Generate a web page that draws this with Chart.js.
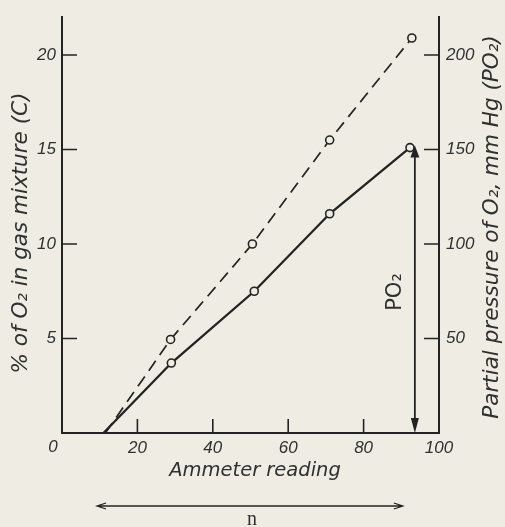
<!DOCTYPE html>
<html>
<head>
<meta charset="utf-8">
<script src="https://cdn.jsdelivr.net/npm/chart.js@4/dist/chart.umd.min.js"></script>
<style>
  html, body { margin: 0; padding: 0; background: #efece4; }
  #wrap { width: 505px; height: 527px; }
</style>
</head>
<body>
<div id="wrap"><canvas id="chart" width="505" height="527"></canvas></div>
<script>
// data (x = ammeter reading, y = % O2)
const solidX = [11, 29, 51, 71, 92.3];
const solidC = [0, 3.7, 7.5, 11.6, 15.1];
const dashedX = [11.5, 28.8, 50.5, 71, 92.8];
const dashedC = [0, 4.95, 10.0, 15.5, 20.9];
const markerShown = [0, 1, 1, 1, 1];

const xTicks = [0, 20, 40, 60, 80, 100];
const leftTicks = [5, 10, 15, 20];
const rightTicks = [50, 100, 150, 200];

const xTitle = 'Ammeter reading';
const leftTitle = '% of O\u2082 in gas mixture (C)';
const rightTitle = 'Partial pressure of O\u2082, mm Hg (PO\u2082)';
const arrowLabel = 'PO\u2082';
const nLabel = 'n';
const po2ArrowX = 93.6;          // ammeter reading of the PO2 arrow
const nRange = [9.3, 90.4];      // span of the n arrow, in ammeter units

const INK = '#232323';
const BG = '#efece4';
const tickFont = { family: 'Liberation Sans', size: 17, style: 'italic' };

function pts(xs, ys) {
    return xs.map((x, i) => ({ x: x, y: ys[i] }));
}

// ticks, titles and arrows drawn on top through the scales
const extras = {
    id: 'extras',
    afterDraw(chart) {
        const ctx = chart.ctx;
        const x = chart.scales.x, y = chart.scales.y, y1 = chart.scales.y1;
        const area = chart.chartArea;
        ctx.save();
        ctx.strokeStyle = INK;
        ctx.fillStyle = INK;
        ctx.lineWidth = 1.6;

        // inward tick marks
        ctx.beginPath();
        leftTicks.forEach(v => {
            const py = y.getPixelForValue(v);
            ctx.moveTo(area.left, py); ctx.lineTo(area.left + 15, py);
        });
        rightTicks.forEach(v => {
            const py = y1.getPixelForValue(v);
            ctx.moveTo(area.right, py); ctx.lineTo(area.right - 15, py);
        });
        xTicks.slice(1, -1).forEach(v => {
            const px = x.getPixelForValue(v);
            ctx.moveTo(px, area.bottom); ctx.lineTo(px, area.bottom - 14);
        });
        ctx.stroke();

        // PO2 arrow (double headed, filled)
        const ax = x.getPixelForValue(po2ArrowX);
        const aTop = y.getPixelForValue(solidC[solidC.length - 1]);
        const aBot = area.bottom;
        ctx.lineWidth = 1.8;
        ctx.beginPath();
        ctx.moveTo(ax, aTop + 8); ctx.lineTo(ax, aBot - 12);
        ctx.stroke();
        ctx.beginPath();
        ctx.moveTo(ax, aBot); ctx.lineTo(ax - 4, aBot - 15); ctx.lineTo(ax + 4, aBot - 15); ctx.closePath();
        ctx.fill();
        ctx.beginPath();
        ctx.moveTo(ax, aTop - 2); ctx.lineTo(ax - 4.5, aTop + 10); ctx.lineTo(ax + 4.5, aTop + 10); ctx.closePath();
        ctx.fill();

        // n arrow under the axis
        const n0 = x.getPixelForValue(nRange[0]);
        const n1 = x.getPixelForValue(nRange[1]);
        const ny = 506;
        ctx.lineWidth = 1.3;
        ctx.beginPath();
        ctx.moveTo(n0, ny); ctx.lineTo(n1, ny);
        ctx.moveTo(n0 + 9, ny - 3); ctx.lineTo(n0, ny); ctx.lineTo(n0 + 9, ny + 3);
        ctx.moveTo(n1 - 9, ny - 3); ctx.lineTo(n1, ny); ctx.lineTo(n1 - 9, ny + 3);
        ctx.stroke();

        // texts
        ctx.fillStyle = '#303030';
        ctx.textAlign = 'center';
        ctx.textBaseline = 'middle';

        // the corner "0" sits left of the axis origin
        ctx.font = 'italic 17px "Liberation Sans"';
        ctx.fillText('0', x.getPixelForValue(0) - 9, area.bottom + 14);

        ctx.font = 'oblique 19.5px "DejaVu Sans"';
        ctx.fillText(xTitle, 255, 471);

        ctx.font = 'oblique 21.5px "DejaVu Sans"';
        ctx.save();
        ctx.translate(21, 233);
        ctx.rotate(-Math.PI / 2);
        ctx.fillText(leftTitle, 0, 0);
        ctx.restore();

        ctx.save();
        ctx.translate(492, 227);
        ctx.rotate(-Math.PI / 2);
        ctx.fillText(rightTitle, 0, 0);
        ctx.restore();

        ctx.save();
        ctx.font = '21px "DejaVu Sans"';
        ctx.translate(ax - 19, 292);
        ctx.rotate(-Math.PI / 2);
        ctx.fillText(arrowLabel, 0, 0);
        ctx.restore();

        ctx.font = '20px "Liberation Serif"';
        ctx.fillText(nLabel, 252, 520);
        ctx.restore();
    }
};

new Chart(document.getElementById('chart').getContext('2d'), {
    type: 'scatter',
    data: {
        datasets: [
            {
                label: 'C',
                data: pts(solidX, solidC),
                showLine: true,
                borderColor: INK,
                borderWidth: 2.3,
                pointRadius: markerShown.map(m => m * 4),
                pointBorderWidth: 1.6,
                pointBackgroundColor: BG,
                pointBorderColor: INK,
                yAxisID: 'y'
            },
            {
                label: 'dashed',
                data: pts(dashedX, dashedC),
                showLine: true,
                borderColor: INK,
                borderWidth: 1.7,
                borderDash: [12, 7],
                pointRadius: markerShown.map(m => m * 4),
                pointBorderWidth: 1.6,
                pointBackgroundColor: BG,
                pointBorderColor: INK,
                yAxisID: 'y'
            }
        ]
    },
    options: {
        responsive: false,
        animation: false,
        layout: { padding: { top: 14, left: 0, right: 0, bottom: 0 } },
        plugins: {
            legend: { display: false },
            tooltip: { enabled: false }
        },
        scales: {
            x: {
                type: 'linear',
                min: 0,
                max: 100,
                afterBuildTicks: s => { s.ticks = xTicks.map(v => ({ value: v })); },
                afterFit: s => { s.height = 94; },
                grid: { drawOnChartArea: false, drawTicks: false },
                border: { display: true, width: 2, color: INK },
                ticks: {
                    padding: 5, font: tickFont, color: '#303030', maxRotation: 0,
                    callback: v => (v === 0 ? '' : v)
                }
            },
            y: {
                type: 'linear',
                position: 'left',
                min: 0,
                max: 22,
                afterBuildTicks: s => { s.ticks = leftTicks.map(v => ({ value: v })); },
                afterFit: s => { s.width = 62; },
                grid: { drawOnChartArea: false, drawTicks: false },
                border: { display: true, width: 2, color: INK },
                ticks: { padding: 6, font: tickFont, color: '#303030' }
            },
            y1: {
                type: 'linear',
                position: 'right',
                min: 0,
                max: 220,
                afterBuildTicks: s => { s.ticks = rightTicks.map(v => ({ value: v })); },
                afterFit: s => { s.width = 66; },
                grid: { drawOnChartArea: false, drawTicks: false },
                border: { display: true, width: 2, color: INK },
                ticks: { padding: 7, font: tickFont, color: '#303030' }
            }
        }
    },
    plugins: [extras]
});
</script>
</body>
</html>
